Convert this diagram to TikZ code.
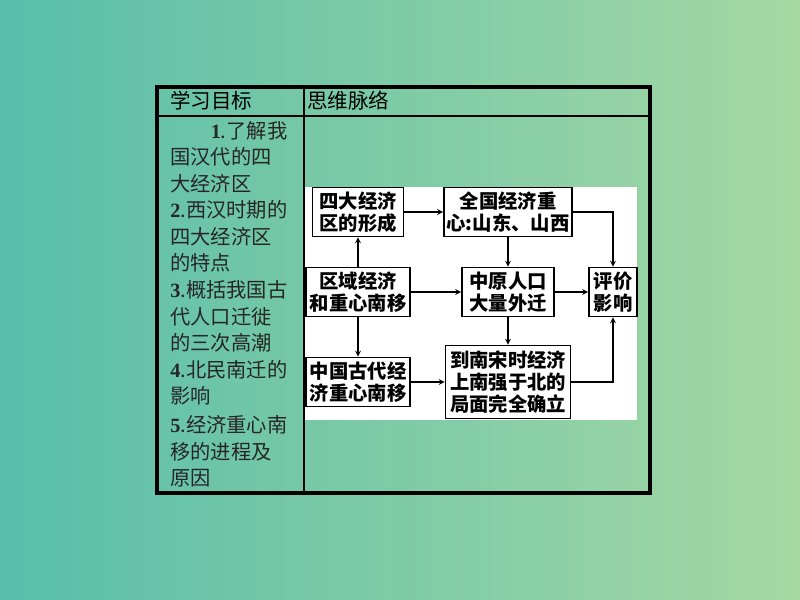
\documentclass[tikz,border=0pt]{standalone}
\usepackage{fontspec}
\newfontfamily\cjk{Noto Sans CJK SC}
\newfontfamily\numfont{Liberation Serif}
\usetikzlibrary{arrows}
\definecolor{bgleft}{RGB}{88,190,170}
\definecolor{bgright}{RGB}{165,216,163}
\newcommand{\itemno}[1]{{\numfont\bfseries #1}}
\tikzstyle{block} = [rectangle, draw=black, line width=1.2pt, fill=white, align=center, inner xsep=2pt, inner ysep=2pt, minimum height=36.75pt, font=\cjk\bfseries\fontsize{14.5}{16.5}\selectfont]
\tikzstyle{head} = [anchor=west, inner sep=0pt, font=\cjk\fontsize{15.4}{18}\selectfont]
\tikzstyle{goal} = [anchor=north west, inner sep=0pt, align=left, text=black!85, font=\cjk\fontsize{15.2}{19.9}\selectfont]
\tikzstyle{arrow} = [line width=1pt,->,>=stealth]

\begin{document}
\begin{tikzpicture}[x=0.75pt, y=-0.75pt, node distance=60pt]
	\useasboundingbox (0,0) rectangle (800,600);
	\shade [left color=bgleft, right color=bgright] (0,0) rectangle (800,600);
	% table
	\fill [white] (305,187) rectangle (637,420);
	\draw [line width=1.5pt] (157,116) -- (650,116);
	\draw [line width=1.5pt] (304,87) -- (304,493);
	\draw [line width=3pt] (157,87) rectangle (650,493);
	\node (goalhead) [head] at (170,101) {学习目标};
	\node (mindhead) [head] at (307,101) {思维脉络};
	\node (goals) [goal] at (170,121) {\hspace*{2em}\itemno{1}.了解我\\国汉代的四\\大经济区\\\itemno{2}.西汉时期的\\四大经济区\\的特点\\\itemno{3}.概括我国古\\代人口迁徙\\的三次高潮\\\itemno{4}.北民南迁的\\影响\\[2pt]\itemno{5}.经济重心南\\移的进程及\\原因};
	% flow chart
	\node (quyu) [block, minimum width=78pt] at (358,292) {区域经济\\和重心南移};
	\node (sida) [block, minimum width=68.25pt, above of=quyu] {四大经济\\区的形成};
	\node (zhongguo) [block, minimum width=78pt, below of=quyu, yshift=-7.5pt] {中国古代经\\济重心南移};
	\node (renkou) [block, minimum width=69pt, right of=quyu, xshift=52.5pt] {中原人口\\大量外迁};
	\node (zhongxin) [block, minimum width=93.75pt, above of=renkou] {全国经济重\\心:山东、山西};
	\node (nansong) [block, minimum width=93.75pt, minimum height=54.75pt, below of=renkou, yshift=-7.5pt] {到南宋时经济\\上南强于北的\\局面完全确立};
	\node (pingjia) [block, minimum width=36pt, right of=renkou, xshift=18.75pt] {评价\\影响};
	\draw [arrow] (quyu) -- (sida);
	\draw [arrow] (quyu) -- (zhongguo);
	\draw [arrow] (quyu) -- (renkou);
	\draw [arrow] (sida) -- (zhongxin);
	\draw [arrow] (zhongxin) -- (renkou);
	\draw [arrow] (renkou) -- (pingjia);
	\draw [arrow] (renkou) -- (nansong);
	\draw [arrow] (zhongguo) -- (nansong);
	\draw [arrow] (zhongxin.east) -| (pingjia.north);
	\draw [arrow] (nansong.east) -| (pingjia.south);
	
\end{tikzpicture}
\end{document}
